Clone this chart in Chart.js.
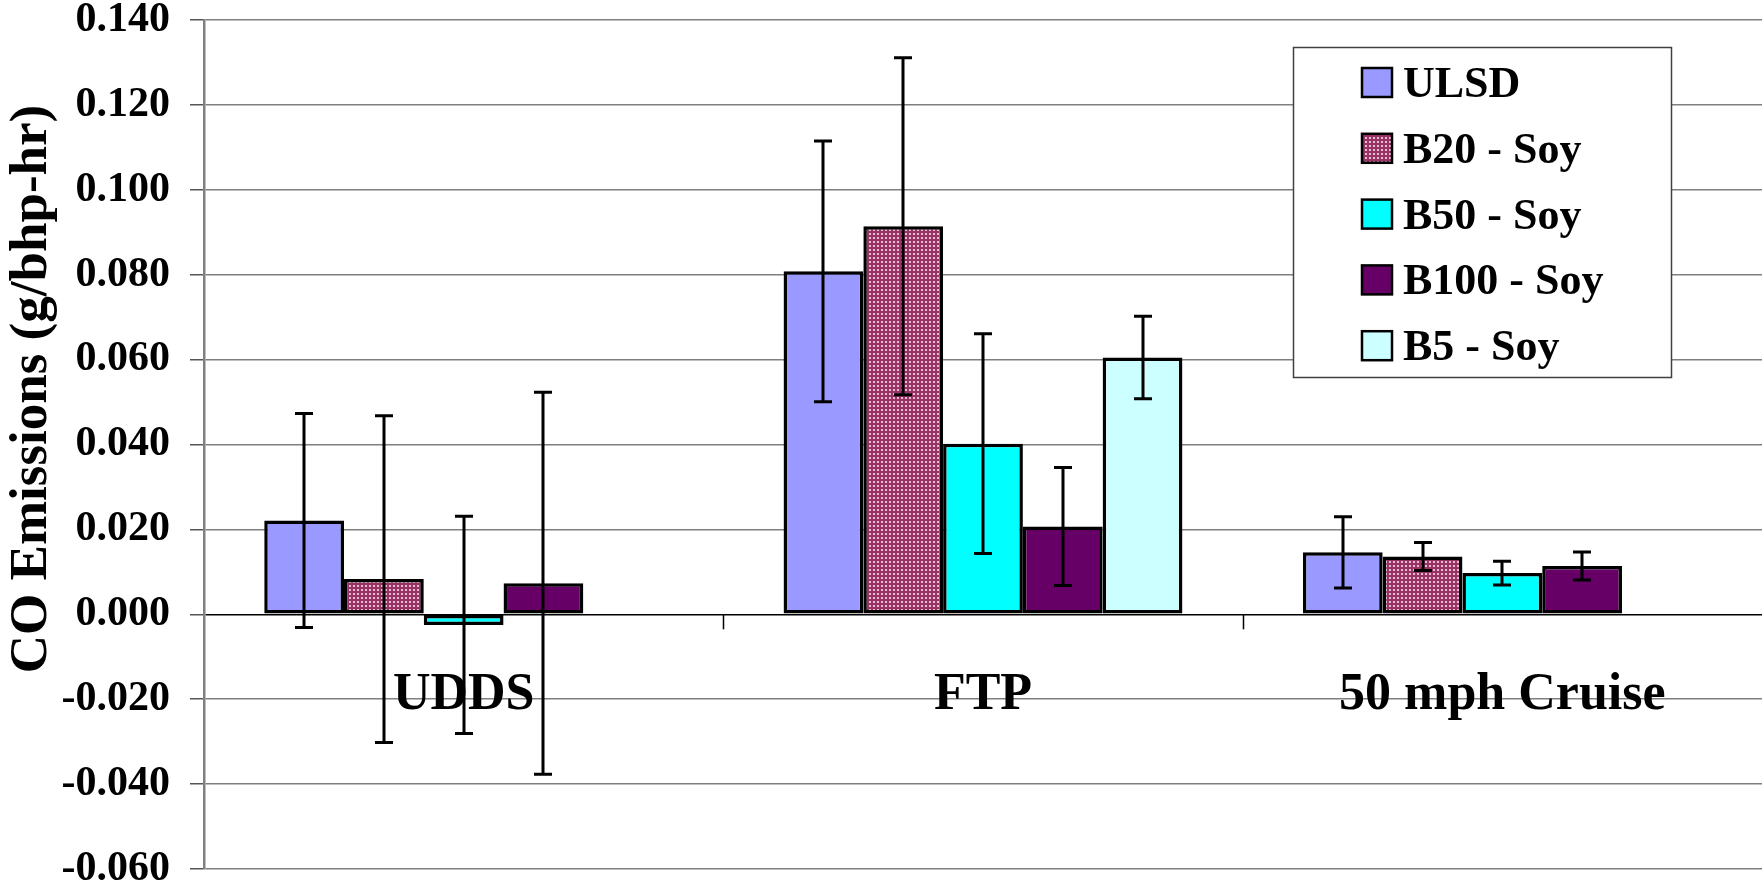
<!DOCTYPE html>
<html>
<head>
<meta charset="utf-8">
<script src="https://cdn.jsdelivr.net/npm/chart.js@4/dist/chart.umd.min.js"></script>
<style>
  html, body { margin: 0; padding: 0; background: #fff; }
  #wrap { width: 1762px; height: 894px; }
</style>
</head>
<body>
<div id="wrap"><canvas id="coChart" width="1762" height="894"></canvas></div>
<script>
// data
const categories = ["UDDS", "FTP", "50 mph Cruise"];
const seriesNames = ["ULSD", "B20 - Soy", "B50 - Soy", "B100 - Soy", "B5 - Soy"];
const ulsd = [0.0221, 0.0808, 0.0146];
const b20 = [0.0083, 0.0914, 0.0136];
const b50 = [-0.0025, 0.0402, 0.0097];
const b100 = [0.0073, 0.0207, 0.0114];
const b5 = [null, 0.0605, null];
// error bar half-widths
const ulsdErr = [0.0252, 0.0307, 0.0084];
const b20Err = [0.0385, 0.0397, 0.0033];
const b50Err = [0.0256, 0.0259, 0.0028];
const b100Err = [0.0450, 0.0139, 0.0033];
const b5Err = [null, 0.0097, null];
const yTicks = { min: -0.06, max: 0.14, step: 0.02 };
const yTitle = "CO Emissions (g/bhp-hr)";

const serif = "'Liberation Serif', 'Times New Roman', serif";

// dotted fill for the B20 bars
function dotPattern() {
  const c = document.createElement("canvas");
  c.width = 4; c.height = 4;
  const g = c.getContext("2d");
  g.fillStyle = "#993366";
  g.fillRect(0, 0, 4, 4);
  g.fillStyle = "#e6bcd0";
  g.fillRect(1, 1, 2, 2);
  return g.createPattern(c, "repeat");
}

const b20Fill = dotPattern();
const fills = ["#9999ff", b20Fill, "#00ffff", "#660066", "#ccffff"];
const values = [ulsd, b20, b50, b100, b5];
const errors = [ulsdErr, b20Err, b50Err, b100Err, b5Err];

const datasets = seriesNames.map((name, i) => ({
  label: name,
  data: values[i],
  errors: errors[i],
  backgroundColor: fills[i],
  borderColor: "#000",
  borderWidth: 3.5,
  borderSkipped: false,
  categoryPercentage: 0.768,
  barPercentage: 1.0,
}));

const extras = {
  id: "extras",
  beforeDatasetsDraw(chart) {
    const { ctx } = chart;
    const x = chart.scales.x, y = chart.scales.y;
    const y0 = y.getPixelForValue(0);
    ctx.save();
    // category labels sit under the zero line
    ctx.font = "bold 52px " + serif;
    ctx.fillStyle = "#000";
    ctx.textAlign = "center";
    ctx.textBaseline = "middle";
    categories.forEach((c, i) => {
      ctx.fillText(c, x.getPixelForValue(i), y0 + 81);
    });
    // tick marks between categories
    ctx.strokeStyle = "#000";
    ctx.lineWidth = 1.5;
    for (let i = 0; i < categories.length - 1; i++) {
      const bx = Math.round((x.getPixelForValue(i) + x.getPixelForValue(i + 1)) / 2) + 0.5;
      ctx.beginPath();
      ctx.moveTo(bx, y0);
      ctx.lineTo(bx, y0 + 15);
      ctx.stroke();
    }
    ctx.restore();
  },
  afterDatasetsDraw(chart) {
    const { ctx } = chart;
    const y = chart.scales.y;
    ctx.save();
    ctx.strokeStyle = "#000";
    ctx.lineWidth = 3;
    chart.data.datasets.forEach((ds, di) => {
      const meta = chart.getDatasetMeta(di);
      meta.data.forEach((bar, j) => {
        const v = ds.data[j], e = ds.errors[j];
        if (v == null || e == null) return;
        const top = y.getPixelForValue(v + e);
        const bot = y.getPixelForValue(v - e);
        const bx = Math.round(bar.x);
        ctx.beginPath();
        ctx.moveTo(bx, top); ctx.lineTo(bx, bot);
        ctx.moveTo(bx - 9, top); ctx.lineTo(bx + 9, top);
        ctx.moveTo(bx - 9, bot); ctx.lineTo(bx + 9, bot);
        ctx.stroke();
      });
    });
    ctx.restore();
  },
  afterDraw(chart) {
    const { ctx } = chart;
    ctx.save();
    // y axis title
    ctx.translate(32, 389);
    ctx.rotate(-Math.PI / 2);
    ctx.font = "bold 53px " + serif;
    ctx.fillStyle = "#000";
    ctx.textAlign = "center";
    ctx.textBaseline = "middle";
    ctx.fillText(yTitle, 0, 0);
    ctx.restore();

    // legend box
    ctx.save();
    const lx = 1293, ly = 47, lw = 378, lh = 330;
    ctx.fillStyle = "#fff";
    ctx.fillRect(lx, ly, lw, lh);
    ctx.strokeStyle = "#404040";
    ctx.lineWidth = 1.5;
    ctx.strokeRect(lx + 0.5, ly + 0.5, lw, lh);
    ctx.font = "bold 44px " + serif;
    ctx.textBaseline = "alphabetic";
    ctx.textAlign = "left";
    chart.data.datasets.forEach((ds, i) => {
      const sy = 68 + i * 65.8;
      ctx.fillStyle = ds.backgroundColor;
      ctx.fillRect(1362, sy, 30, 29);
      ctx.strokeStyle = "#000";
      ctx.lineWidth = 2.5;
      ctx.strokeRect(1362, sy, 30, 29);
      ctx.fillStyle = "#000";
      ctx.fillText(ds.label, 1403, sy + 29);
    });
    ctx.restore();
  },
};

new Chart(document.getElementById("coChart"), {
  type: "bar",
  data: { labels: categories, datasets: datasets },
  options: {
    responsive: false,
    animation: false,
    devicePixelRatio: 1,
    layout: { padding: 0 },
    plugins: { legend: { display: false }, tooltip: { enabled: false } },
    scales: {
      x: { display: false },
      y: {
        min: yTicks.min,
        max: yTicks.max,
        afterFit(scale) {
          scale.width = 204;
          scale.paddingTop = 20;
          scale.paddingBottom = 25;
        },
        ticks: {
          stepSize: yTicks.step,
          callback: (v) => v.toFixed(3),
          color: "#000",
          padding: 20,
          font: { family: serif, size: 42, weight: "bold", lineHeight: 1 },
        },
        grid: {
          color: (c) => (c.tick && Math.abs(c.tick.value) < 1e-9 ? "#000" : "#7f7f7f"),
          lineWidth: 1.5,
          tickLength: 14,
          tickColor: "#555",
        },
        border: { color: "#808080", width: 2.5 },
      },
    },
  },
  plugins: [extras],
});
</script>
</body>
</html>
